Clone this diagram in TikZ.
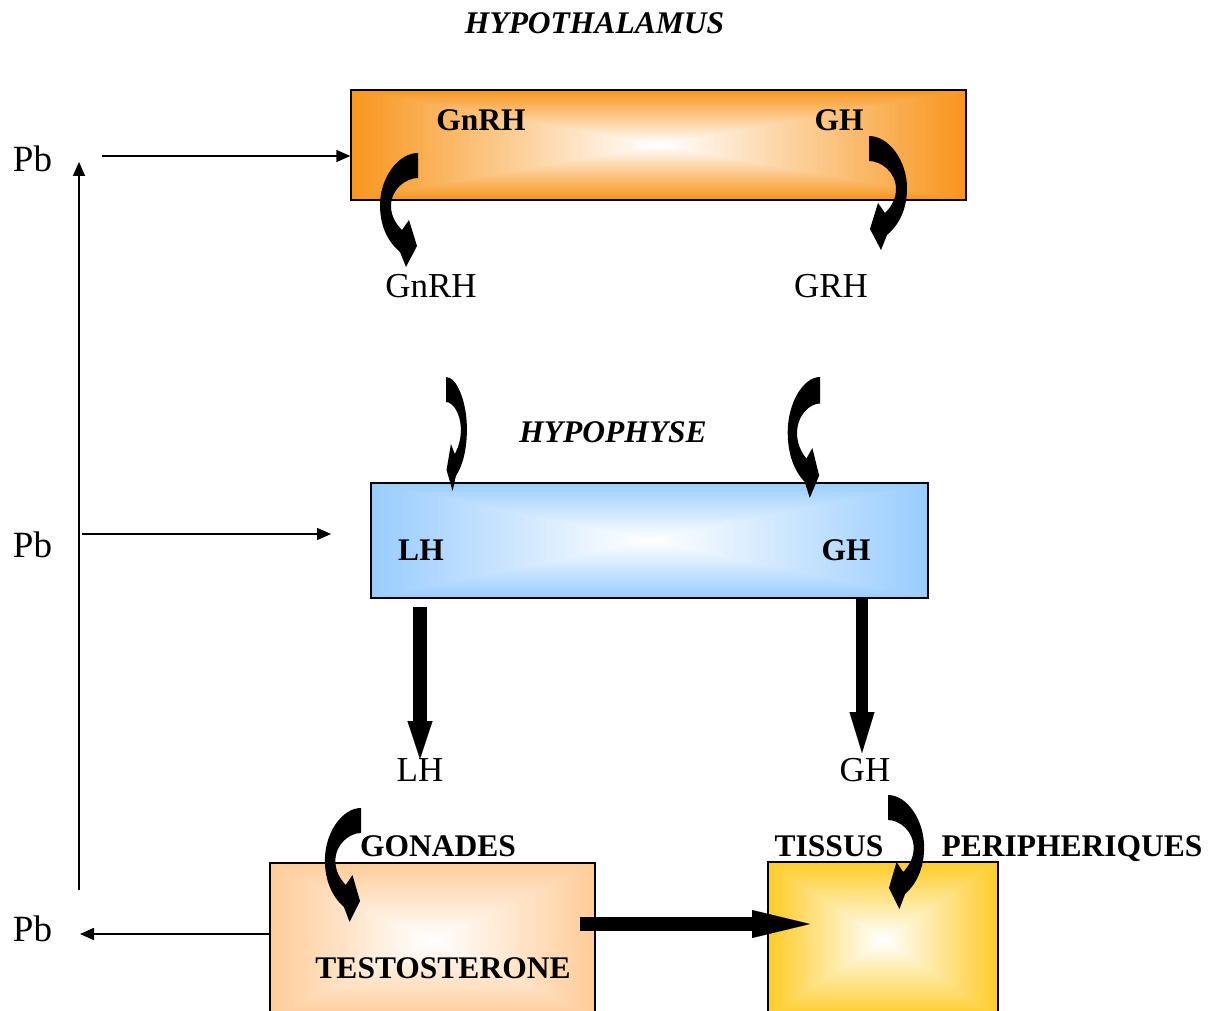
\documentclass[tikz,border=0pt]{standalone}
\usepackage{fontspec}
\setmainfont{Liberation Serif}
\usetikzlibrary{arrows.meta}
\definecolor{orangeE}{RGB}{248,150,30}
\definecolor{blueE}{RGB}{153,204,255}
\definecolor{peachE}{RGB}{255,204,153}
\definecolor{goldE}{RGB}{255,204,40}

\newcommand\gradrect[5]{%
  \foreach \i in {0,...,59}{%
    \pgfmathsetmacro\gdx{(#3-#1)*(\i/120)}%
    \pgfmathsetmacro\gdy{(#4-#2)*(\i/120)}%
    \pgfmathsetmacro\gp{100-100*(\i/59)}%
    \fill[#5!\gp!white] ({#1+\gdx},{#2+\gdy}) rectangle ({#3-\gdx},{#4-\gdy});
  }}

\tikzset{
  txt/.style={font=\fontsize{35}{40}\selectfont, inner sep=0pt, anchor=base},
  pbtxt/.style={font=\fontsize{37}{42}\selectfont, inner sep=0pt, anchor=base},
  btxt/.style={font=\fontsize{31.5}{36}\selectfont\bfseries, inner sep=0pt, anchor=base},
  bitxt/.style={font=\fontsize{31.5}{36}\selectfont\bfseries\itshape, inner sep=0pt, anchor=base},
  boxst/.style={draw, line width=1.3pt, inner sep=0pt},
  thinarrow/.style={line width=1.5pt, -{Triangle[length=14pt,width=12pt]}},
  carrow/.pic={
    \fill[black] (0,0) -- (0,25) .. controls (-12,25) and (-27,36) .. (-27,53)
      .. controls (-27,63) and (-22,71) .. (-16,77) -- (-9,67) -- (-1,93) -- (-12,114)
      -- (-18,99) .. controls (-31,88) and (-38,72) .. (-38,52)
      .. controls (-38,25) and (-20,0) .. (0,0) -- cycle;
  }
}

\begin{document}
\begin{tikzpicture}[x=1pt,y=-1pt]
\useasboundingbox (0,0) rectangle (1208,1011);
\clip (0,0) rectangle (1208,1011);

% boxes with rectangular gradients
\gradrect{351}{90}{966}{200}{orangeE}
\node[boxst, minimum width=615pt, minimum height=110pt] (hbox) at (658.5,145) {};
\gradrect{371}{483}{928}{598}{blueE}
\node[boxst, minimum width=557pt, minimum height=115pt] (pbox) at (649.5,540.5) {};
\gradrect{270}{863}{595}{1018}{peachE}
\node[boxst, minimum width=325pt, minimum height=155pt] (tbox) at (432.5,940.5) {};
\gradrect{768}{862}{998}{1018}{goldE}
\node[boxst, minimum width=230pt, minimum height=156pt] (ybox) at (883,940) {};

% texts
\node[bitxt] (thyp) at (594.5,34) {HYPOTHALAMUS};
\node[btxt] (hgnrh) at (481,131) {GnRH};
\node[btxt] (hgh) at (839,131) {GH};
\node[txt] (gnrh) at (431,298) {GnRH};
\node[txt] (grh) at (831,298) {GRH};
\node[bitxt] (thypo) at (613,442) {HYPOPHYSE};
\node[btxt] (plh) at (421,560) {LH};
\node[btxt] (pgh) at (846,560) {GH};
\node[txt] (lh) at (420,781) {LH};
\node[txt] (gh) at (865,781) {GH};
\node[btxt] (gon) at (438,856) {GONADES};
\node[btxt] (tis) at (829,856) {TISSUS};
\node[btxt] (per) at (1072,856) {PERIPHERIQUES};
\node[btxt] (testo) at (443,978) {TESTOSTERONE};
\node[pbtxt] (pb1) at (32.5,172) {Pb};
\node[pbtxt] (pb2) at (32.5,557) {Pb};
\node[pbtxt] (pb3) at (32.5,941) {Pb};

% thin connectors
\coordinate (a1) at (102,156);
\draw[thinarrow] (a1) -- (a1 -| hbox.west);
\coordinate (a2) at (82,534);
\coordinate (a2e) at (331,534);
\draw[thinarrow] (a2) -- (a2e);
\coordinate (a3) at (80,934);
\draw[thinarrow] (a3 -| tbox.west) -- (a3);
\coordinate (v1) at (79,890);
\coordinate (v2) at (79,162);
\draw[thinarrow] (v1) -- (v2);

% thick straight arrows
\coordinate (lhs) at (420,607);
\coordinate (lhe) at (420,759);
\draw[line width=14pt, -{Triangle[length=38pt,width=25pt,line width=0.01pt]}] (lhs) -- (lhe);
\coordinate (ghe) at (862,753);
\draw[line width=12pt, -{Triangle[length=41pt,width=25pt,line width=0.01pt]}] (pbox.south -| ghe) -- (ghe);
\coordinate (ts) at (580,924);
\coordinate (te) at (810,924);
\draw[line width=14pt, -{Triangle[length=58pt,width=28pt,line width=0.01pt]}] (ts) -- (te);

% curved block arrows
\pic (c1) at (418,153) {carrow};
\pic[xscale=-1] (c2) at (869,136) {carrow};
\pic[xscale=-0.55] (c3) at (446,377) {carrow};
\pic[xscale=0.85, yscale=1.06] (c4) at (820,377) {carrow};
\pic[xscale=0.95] (c5) at (361,808) {carrow};
\pic[xscale=-0.95] (c6) at (888,795) {carrow};
\end{tikzpicture}
\end{document}
